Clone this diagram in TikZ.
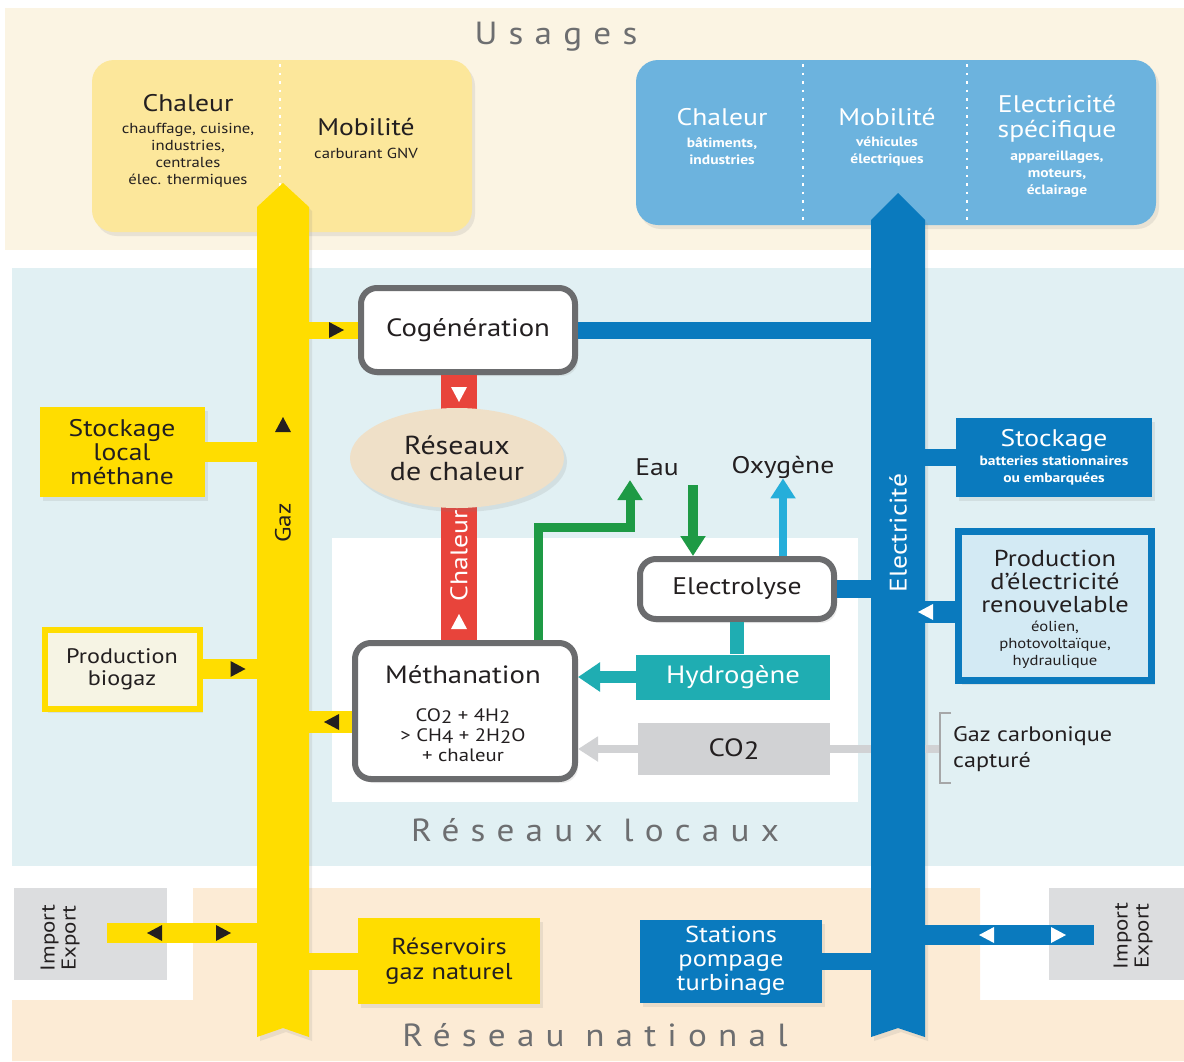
\documentclass[tikz,border=0pt]{standalone}
\usepackage{fontspec}
\setmainfont{PT Sans}[FakeStretch=1.15]
\newfontfamily\trackedfont{PT Sans}[LetterSpace=35,FakeStretch=1.1]
\usetikzlibrary{arrows.meta,shapes.geometric,shadows,calc}
\newcommand\lowidx[1]{\raisebox{-.25ex}{#1}}

\begin{document}
\begin{tikzpicture}[x=1pt,y=-1pt,
  every node/.style={inner sep=0pt,align=center,text=ink},
  titlef/.style={font=\fontsize{24}{25}\selectfont},
  subf/.style={font=\fontsize{14.5}{17}\selectfont},
  boldsubf/.style={font=\bfseries\fontsize{13.5}{17}\selectfont},
  bigf/.style={font=\fontsize{25}{26}\selectfont},
  zone/.style={font=\trackedfont\fontsize{32}{34}\selectfont,text=zonegrey},
  softshadow/.style={drop shadow={shadow xshift=3pt,shadow yshift=-4pt,opacity=.15}},
  usagebox/.style={rounded corners=22pt,softshadow},
  procbox/.style={draw=boxgrey,line width=6pt,fill=white,rounded corners=16pt,softshadow,bigf},
  gazbox/.style={fill=gazyellow,softshadow,bigf},
  elecbox/.style={fill=elecblue,text=white,softshadow,bigf},
  gazlink/.style={draw=gazyellow,line width=20pt},
  eleclink/.style={draw=elecblue,line width=18pt},
  heatlink/.style={draw=heatred,line width=36pt},
  flowarrow/.style={-{Triangle[length=20pt,width=24pt]}},
  tri/.pic={\fill[#1] (8,0) -- (-7,8) -- (-7,-8) -- cycle;}]
\definecolor{cream}{HTML}{FBF4E3}
\definecolor{peach}{HTML}{FCEBD5}
\definecolor{iceblue}{HTML}{E1F0F3}
\definecolor{gazyellow}{HTML}{FFDD00}
\definecolor{paleyellow}{HTML}{FCE79B}
\definecolor{skyblue}{HTML}{6CB3DE}
\definecolor{elecblue}{HTML}{0A7ABE}
\definecolor{heatred}{HTML}{E8443B}
\definecolor{sand}{HTML}{EFE0C8}
\definecolor{leafgreen}{HTML}{1E9A45}
\definecolor{oxycyan}{HTML}{25AEDA}
\definecolor{hydroteal}{HTML}{1FADB2}
\definecolor{co2grey}{HTML}{D1D2D4}
\definecolor{boxgrey}{HTML}{6B6C6E}
\definecolor{lightpanel}{HTML}{D3EAF4}
\definecolor{biocream}{HTML}{F6F4E4}
\definecolor{impgrey}{HTML}{DCDDDF}
\definecolor{ink}{HTML}{231F20}
\definecolor{zonegrey}{HTML}{6D6E70}
\useasboundingbox (0,0) rectangle (1184,1061);
% zones
\fill[cream] (5,8) rectangle (1184,250);
\fill[iceblue] (12,268) rectangle (1184,866);
\fill[white] (332,538) rectangle (858,802);
\fill[peach] (193,888) -- (980,888) -- (980,1000) -- (1184,1000) -- (1184,1061) -- (12,1061) -- (12,1000) -- (193,1000) -- cycle;
\node[fill=impgrey,minimum width=153pt,minimum height=92pt] (impgaz) at (90.5,934) {};
\node[fill=impgrey,minimum width=135pt,minimum height=92pt] (impelec) at (1116.5,934) {};
\node[zone] (usages) at (556,37) {Usages};
\node[zone] (locaux) at (595,830) {Réseaux locaux};
\node[zone] (national) at (595,1035) {Réseau national};

% usages
\node[usagebox,fill=paleyellow,minimum width=380pt,minimum height=172pt] (usegaz) at (282,146) {};
\node[usagebox,fill=skyblue,minimum width=520pt,minimum height=165pt] (useelec) at (896,142.5) {};
\foreach \dx in {280,803,967}
  \draw[white,line width=2.5pt,dash pattern=on 2.5pt off 6pt] (\dx,64) -- (\dx,222);
\node[titlef] (gazheat) at (188,103) {Chaleur};
\node[subf] (gazheatsub) at (188,155) {chauffage, cuisine,\\industries,\\centrales\\élec. thermiques};
\node[titlef] (gazmob) at (366,127) {Mobilité};
\node[subf] (gazmobsub) at (366,153) {carburant GNV};
\node[titlef,text=white] (elecheat) at (722,117) {Chaleur};
\node[boldsubf,text=white] (elecheatsub) at (722,151) {bâtiments,\\industries};
\node[titlef,text=white] (elecmob) at (887,117) {Mobilité};
\node[boldsubf,text=white] (elecmobsub) at (887,151) {véhicules\\électriques};
\node[titlef,text=white] (elecspec) at (1057,119) {Electricité\\spécifique};
\node[boldsubf,text=white] (elecspecsub) at (1057,174) {appareillages,\\moteurs,\\éclairage};

% pipes
\fill[gazyellow,softshadow] (257,207) -- (283,183) -- (309,207) -- (309,1037) -- (283,1028) -- (257,1037) -- cycle;
\fill[elecblue,softshadow] (871,220) -- (898,193) -- (925,220) -- (925,1037) -- (898,1028) -- (871,1037) -- cycle;
\coordinate (gaz) at (283,0);
\coordinate (elec) at (898,0);
\coordinate (elecL) at (871,0);
\coordinate (elecR) at (925,0);

% local network
\node[procbox,minimum width=214pt,minimum height=84pt] (cogen) at (468,330) {Cogénération};
\node[procbox,minimum width=220pt,minimum height=136pt] (methan) at (465,711) {};
\coordinate (heatx) at (459,0);
\draw[heatlink] (cogen.south -| heatx) -- (methan.north -| heatx);
\node[ellipse,fill=sand,softshadow,minimum width=214pt,minimum height=100pt,font=\fontsize{26}{26}\selectfont] (heatnet) at (457,458) {Réseaux\\de chaleur};
\node[bigf] (methantitle) at (463,675) {Méthanation};
\node[font=\fontsize{18}{20}\selectfont] (methaneq) at (463,735) {CO\lowidx{2} + 4H\lowidx{2}\\> CH\lowidx{4} + 2H\lowidx{2}O\\+ chaleur};
\node[procbox,minimum width=194pt,minimum height=60pt,font=\fontsize{24}{25}\selectfont] (electro) at (737,589) {Electrolyse};
\node[fill=hydroteal,text=white,minimum width=194pt,minimum height=45pt,bigf] (hydro) at (733,677) {Hydrogène};
\node[fill=co2grey,minimum width=192pt,minimum height=52pt,bigf] (co2) at (734,749) {CO\lowidx{2}};
\node[font=\fontsize{24}{25}\selectfont] (eau) at (657,467) {Eau};
\node[font=\fontsize{24}{25}\selectfont] (oxy) at (783,467) {Oxygène};
\coordinate (eauout) at (630,480);
\coordinate (eauin) at (693,485);
\draw[leafgreen,line width=9pt,flowarrow] ($(methan.north)+(73,0)$) -- ++(0,-113) -| (eauout);
\draw[leafgreen,line width=10pt,flowarrow] (eauin) -- (eauin |- electro.north);
\draw[oxycyan,line width=8pt,flowarrow] (oxy.south |- electro.north) -- (oxy.south);
\draw[hydroteal,line width=14pt] (electro.south) -- (electro.south |- hydro.north);
\draw[hydroteal,line width=12pt,-{Triangle[length=22pt,width=28pt]}] (hydro.west) -- (hydro.west -| methan.east);
\draw[co2grey,line width=8pt,flowarrow] (co2.west) -- (co2.west -| methan.east);
\coordinate (co2end) at (940,749);
\draw[co2grey,line width=8pt] (co2.east) -- (co2.east -| elecL);
\draw[co2grey,line width=8pt] (co2.east -| elecR) -- (co2end);
\draw[boxgrey!60,line width=2.5pt] (951,713) -- (940,713) -- (940,783) -- (951,783);
\node[anchor=west,align=left,font=\fontsize{21}{26}\selectfont] (co2label) at (953,749) {Gaz carbonique\\capturé};

% gas side
\node[gazbox,minimum width=165pt,minimum height=90pt,font=\fontsize{24}{24}\selectfont] (stockgaz) at (122,452) {Stockage\\local\\méthane};
\node[draw=gazyellow,line width=6pt,fill=biocream,softshadow,minimum width=155pt,minimum height=79pt,font=\fontsize{21}{22}\selectfont] (biogaz) at (122,669) {Production\\biogaz};
\node[gazbox,minimum width=182pt,minimum height=86pt,font=\fontsize{23}{25}\selectfont] (reserv) at (449,961) {Réservoirs\\gaz naturel};
\coordinate (impgazend) at (107,933);
\draw[gazlink,line width=17pt] (cogen.west) -- (cogen.west -| gaz);
\draw[gazlink] (stockgaz.east) -- (stockgaz.east -| gaz);
\draw[gazlink] (biogaz.east) -- (biogaz.east -| gaz);
\draw[gazlink,line width=22pt] (methan.west |- 0,722) -- (gaz |- 0,722);
\draw[gazlink,line width=17pt] (reserv.west) -- (reserv.west -| gaz);
\draw[gazlink] (impgazend) -- (impgazend -| gaz);
\node[rotate=90,font=\fontsize{22}{22}\selectfont] (gazlabel) at (283,523) {Gaz};
\node[rotate=90,font=\fontsize{20}{21}\selectfont] (impgaztxt) at (60,938) {Import\\Export};

% electric side
\node[elecbox,minimum width=196pt,minimum height=79pt,boldsubf] (stockelec) at (1054,457) {{\mdseries\fontsize{24}{25}\selectfont Stockage}\\[2pt]batteries stationnaires\\ou embarquées};
\node[draw=elecblue,line width=7pt,fill=lightpanel,softshadow,minimum width=193pt,minimum height=149pt] (prodelec) at (1055,606) {};
\node[font=\fontsize{23}{23}\selectfont] (prodtitle) at (1055,581) {Production\\d'électricité\\renouvelable};
\node[subf] (prodsub) at (1055,645) {éolien,\\photovoltaïque,\\hydraulique};
\node[elecbox,minimum width=182pt,minimum height=83pt,font=\fontsize{23}{24}\selectfont] (stations) at (731,961) {Stations\\pompage\\turbinage};
\coordinate (impelecend) at (1094,935);
\draw[eleclink,line width=17pt] (cogen.east) -- (cogen.east -| elec);
\draw[eleclink] (electro.east) -- (electro.east -| elec);
\draw[eleclink,line width=17pt] (stockelec.west) -- (stockelec.west -| elec);
\draw[eleclink,line width=22pt] (prodelec.west |- 0,612) -- (elec |- 0,612);
\draw[eleclink,line width=17pt] (stations.east) -- (stations.east -| elec);
\draw[eleclink,line width=20pt] (impelecend -| elec) -- (impelecend);
\node[rotate=90,text=white,font=\fontsize{24}{24}\selectfont] (eleclabel) at (898,533) {Electricité};
\node[rotate=90,font=\fontsize{20}{21}\selectfont] (impelectxt) at (1133,936) {Import\\Export};
\node[rotate=90,text=white,font=\fontsize{24}{24}\selectfont] (heatlabel) at (459,556) {Chaleur};

% flow marks
\pic at ($(cogen.west)+(-22,0)$) {tri=ink};
\pic[rotate=90] at (283,425) {tri=ink};
\pic at ($(biogaz.east)+(35,0)$) {tri=ink};
\pic[rotate=180] at (332,722) {tri=ink};
\pic[rotate=180] at (155,933) {tri=ink};
\pic at (223,933) {tri=ink};
\pic[rotate=-90] at (459,394) {tri=white};
\pic[rotate=90] at (459,622) {tri=white};
\pic[rotate=180] at (926,612) {tri=white};
\pic[rotate=180] at (987,935) {tri=white};
\pic at (1058,935) {tri=white};
\end{tikzpicture}
\end{document}
